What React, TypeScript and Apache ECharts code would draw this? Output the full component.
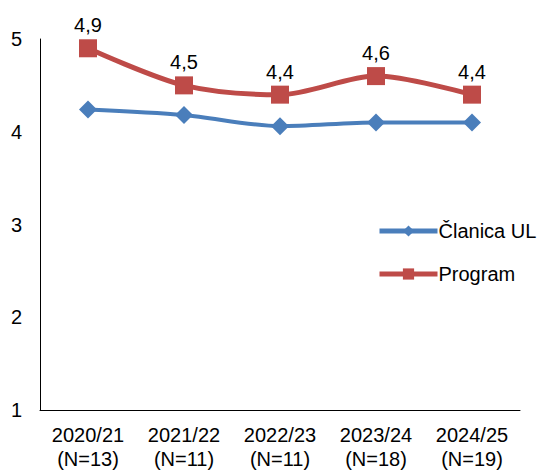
import React, { useEffect, useRef } from "react";
import * as echarts from "echarts";

const categories = ["2020/21\n(N=13)", "2021/22\n(N=11)", "2022/23\n(N=11)", "2023/24\n(N=18)", "2024/25\n(N=19)"];
const clanicaValues = [4.24, 4.18, 4.06, 4.1, 4.1];
const programValues = [4.9, 4.5, 4.4, 4.6, 4.4];
const seriesNames = ["Članica UL", "Program"];

const FONT = "'Liberation Sans', Arial, sans-serif";

export default function App() {
  const ref = useRef<HTMLDivElement>(null);
  useEffect(() => {
    if (!ref.current) return;
    const chart = echarts.init(ref.current, undefined, { renderer: "svg" });
    chart.setOption({
      animation: false,
      backgroundColor: "#ffffff",
      textStyle: { fontFamily: FONT },
      grid: { left: 40, right: 25, top: 39, bottom: 60, containLabel: false },
      legend: {
        orient: "vertical",
        left: 372,
        top: 216,
        itemWidth: 58,
        itemHeight: 14,
        itemGap: 23,
        lineStyle: { width: 5 },
        textStyle: { fontFamily: FONT, fontSize: 20, color: "#000", padding: [0, 0, 0, -4] },
        data: seriesNames,
      },
      xAxis: {
        type: "category",
        data: categories,
        boundaryGap: true,
        axisLine: { lineStyle: { color: "#000", width: 1 } },
        axisTick: { show: false },
        axisLabel: { fontFamily: FONT, fontSize: 20, color: "#000", lineHeight: 24, margin: 13, interval: 0 },
      },
      yAxis: {
        type: "value",
        min: 1,
        max: 5,
        interval: 1,
        splitLine: { show: false },
        axisLine: { show: true, lineStyle: { color: "#000", width: 1 } },
        axisTick: { show: false },
        axisLabel: { fontFamily: FONT, fontSize: 20, color: "#000", margin: 18 },
      },
      series: [
        {
          name: seriesNames[0],
          type: "line",
          data: clanicaValues,
          smooth: 0.3,
          symbol: "diamond",
          symbolSize: 18,
          itemStyle: { color: "#4A7EBB" },
          lineStyle: { color: "#4A7EBB", width: 4 },
        },
        {
          name: seriesNames[1],
          type: "line",
          data: programValues,
          smooth: 0.3,
          symbol: "rect",
          symbolSize: 18,
          itemStyle: { color: "#BE4B48" },
          lineStyle: { color: "#BE4B48", width: 5 },
          label: {
            show: true,
            position: "top",
            distance: 4,
            fontFamily: FONT,
            fontSize: 20,
            color: "#000",
            formatter: (p: any) => String(p.value).replace(".", ","),
          },
        },
      ],
    });
    return () => chart.dispose();
  }, []);
  return <div ref={ref} style={{ position: "fixed", left: 0, top: 0, width: 545, height: 471 }} />;
}
